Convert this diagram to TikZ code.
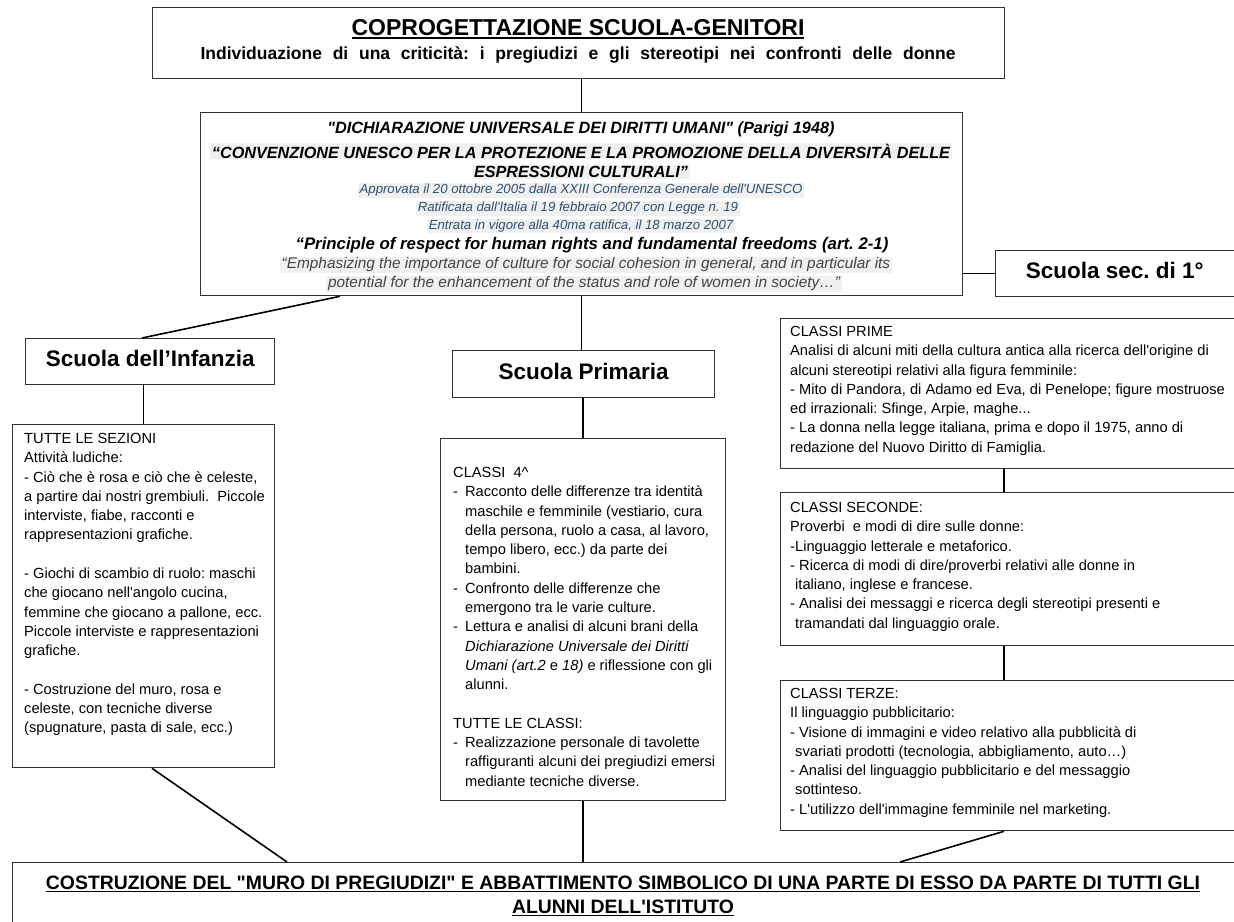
\documentclass[tikz,border=0pt]{standalone}
\usepackage{fontspec}
\setmainfont{Liberation Sans}[Ligatures=TeXOff]
\usetikzlibrary{calc}
\frenchspacing
\definecolor{boxline}{HTML}{333333}
\definecolor{hl}{HTML}{F0F0F0}
\definecolor{smallblue}{HTML}{2F5075}
\definecolor{greytxt}{HTML}{444444}
\newcommand\fs[2]{\fontsize{#1}{#2}\selectfont\frenchspacing}
\newcommand\thul[1]{\leavevmode\vtop{\hbox{#1}\kern1.6pt\hrule height1.6pt}}
\newcommand\up[1]{\raisebox{3pt}[0.7em][0pt]{#1}}
\tikzset{
  box/.style={draw=boxline, line width=1.3pt, fill=white, anchor=north west, inner sep=0pt},
  conn/.style={line width=1.6pt, black},
  txt/.style={inner sep=0pt, align=left, anchor=north west, font=\fs{14.67}{19.3}},
  head/.style={font=\bfseries\fs{22.5}{26}},
  ctr/.style={inner sep=0pt, anchor=center},
  hline/.style={fill=hl, inner xsep=2pt, inner ysep=1pt},
}
\begin{document}
\begin{tikzpicture}[x=1pt,y=-1pt]
\useasboundingbox (0,0) rectangle (1234,921);
\clip (0,0) rectangle (1234,921);

% ---------- boxes ----------
\node[box, minimum width=852pt, minimum height=71pt] (top) at (152,7) {};
\node[box, minimum width=762pt, minimum height=183pt] (mid) at (200,112) {};
\node[box, minimum width=250pt, minimum height=46pt, head] (sec) at (995,250) {\up{\hspace*{-12pt}Scuola sec. di 1°}};
\node[box, minimum width=249pt, minimum height=46pt, head] (inf) at (25,338) {\up{Scuola dell’Infanzia}};
\node[box, minimum width=262pt, minimum height=47pt, head] (prim) at (452,350) {\up{Scuola Primaria}};
\node[box, minimum width=262pt, minimum height=343pt] (infc) at (12,424) {};
\node[box, minimum width=285pt, minimum height=362pt] (primc) at (440,438) {};
\node[box, minimum width=470pt, minimum height=150pt] (prime) at (780,318) {};
\node[box, minimum width=470pt, minimum height=153pt] (seconde) at (780,492) {};
\node[box, minimum width=470pt, minimum height=150pt] (terze) at (780,680) {};
\node[box, minimum width=1240pt, minimum height=70pt] (bot) at (12,862) {};

% ---------- top box text ----------
\node[ctr, font=\bfseries\fs{23}{26}] (t1) at (578,29) {\thul{COPROGETTAZIONE SCUOLA-GENITORI}};
\node[ctr, font=\bfseries\fs{17.5}{20}] (t2) at (578,55) {\makebox[755pt][s]{Individuazione di una criticità: i pregiudizi e gli stereotipi nei confronti delle donne}};

% ---------- middle box text ----------
\node[ctr, font=\bfseries\itshape\fs{16.3}{19}] (m1) at (581,129) {"DICHIARAZIONE UNIVERSALE DEI DIRITTI UMANI" (Parigi 1948)};
\node[ctr, hline, font=\bfseries\itshape\fs{16.2}{19}] (m2) at (581,151) {“CONVENZIONE UNESCO PER LA PROTEZIONE E LA PROMOZIONE DELLA DIVERSITÀ DELLE};
\node[ctr, hline, font=\bfseries\itshape\fs{16.2}{19}] (m3) at (581,172) {ESPRESSIONI CULTURALI”};
\node[ctr, hline, text=smallblue, font=\itshape\fs{13.2}{15}] (m4) at (581,190.5) {Approvata il 20 ottobre 2005 dalla XXIII Conferenza Generale dell'UNESCO};
\node[ctr, hline, text=smallblue, font=\itshape\fs{13.2}{15}] (m5) at (578,208.5) {Ratificata dall'Italia il 19 febbraio 2007 con Legge n. 19};
\node[ctr, hline, text=smallblue, font=\itshape\fs{13.2}{15}] (m6) at (581,226) {Entrata in vigore alla 40ma ratifica, il 18 marzo 2007};
\node[ctr, font=\bfseries\itshape\fs{16.8}{19}] (m7) at (592,245) {“Principle of respect for human rights and fundamental freedoms (art. 2-1)};
\node[ctr, hline, text=greytxt, font=\itshape\fs{15.4}{17}] (m8) at (586,265) {“Emphasizing the importance of culture for social cohesion in general, and in particular its};
\node[ctr, hline, text=greytxt, font=\itshape\fs{15.4}{17}] (m9) at (584,284) {potential for the enhancement of the status and role of women in society…”};

% ---------- Infanzia ----------
\node[txt] (infT) at (24,433) {TUTTE LE SEZIONI\\
Attività ludiche:\\
- Ciò che è rosa e ciò che è celeste,\\
a partire dai nostri grembiuli.\ \ Piccole\\
interviste, fiabe, racconti e\\
rappresentazioni grafiche.\\[19.3pt]
- Giochi di scambio di ruolo: maschi\\
che giocano nell'angolo cucina,\\
femmine che giocano a pallone, ecc.\\
Piccole interviste e rappresentazioni\\
grafiche.\\[19.3pt]
- Costruzione del muro, rosa e\\
celeste, con tecniche diverse\\
(spugnature, pasta di sale, ecc.)};

% ---------- Primaria ----------
\node[txt] (primT) at (453,467) {CLASSI\ \ 4\textasciicircum\\
-\hspace{7pt}Racconto delle differenze tra identità\\
\hspace*{12pt}maschile e femminile (vestiario, cura\\
\hspace*{12pt}della persona, ruolo a casa, al lavoro,\\
\hspace*{12pt}tempo libero, ecc.) da parte dei\\
\hspace*{12pt}bambini.\\
-\hspace{7pt}Confronto delle differenze che\\
\hspace*{12pt}emergono tra le varie culture.\\
-\hspace{7pt}Lettura e analisi di alcuni brani della\\
\hspace*{12pt}\textit{Dichiarazione Universale dei Diritti}\\
\hspace*{12pt}\textit{Umani (art.2} e \textit{18)} e riflessione con gli\\
\hspace*{12pt}alunni.\\[19.3pt]
TUTTE LE CLASSI:\\
-\hspace{7pt}Realizzazione personale di tavolette\\
\hspace*{12pt}raffiguranti alcuni dei pregiudizi emersi\\
\hspace*{12pt}mediante tecniche diverse.};

% ---------- Sec. 1 ----------
\node[txt] (primeT) at (790,326) {CLASSI PRIME\\
Analisi di alcuni miti della cultura antica alla ricerca dell'origine di\\
alcuni stereotipi relativi alla figura femminile:\\
- Mito di Pandora, di Adamo ed Eva, di Penelope; figure mostruose\\
ed irrazionali: Sfinge, Arpie, maghe...\\
- La donna nella legge italiana, prima e dopo il 1975, anno di\\
redazione del Nuovo Diritto di Famiglia.};

\node[txt] (secondeT) at (790,502) {CLASSI SECONDE:\\
Proverbi\ \ e modi di dire sulle donne:\\
-Linguaggio letterale e metaforico.\\
- Ricerca di modi di dire/proverbi relativi alle donne in\\
\hspace*{5pt}italiano, inglese e francese.\\
- Analisi dei messaggi e ricerca degli stereotipi presenti e\\
\hspace*{5pt}tramandati dal linguaggio orale.};

\node[txt] (terzeT) at (790,688) {CLASSI TERZE:\\
Il linguaggio pubblicitario:\\
- Visione di immagini e video relativo alla pubblicità di\\
\hspace*{5pt}svariati prodotti (tecnologia, abbigliamento, auto…)\\
- Analisi del linguaggio pubblicitario e del messaggio\\
\hspace*{5pt}sottinteso.\\
- L'utilizzo dell'immagine femminile nel marketing.};

% ---------- bottom ----------
\node[ctr, font=\bfseries\fs{19.4}{22}] (b1) at (623,884) {\thul{COSTRUZIONE DEL "MURO DI PREGIUDIZI" E ABBATTIMENTO SIMBOLICO DI UNA PARTE DI ESSO DA PARTE DI TUTTI GLI}};
\node[ctr, font=\bfseries\fs{19.4}{22}] (b2) at (623,908) {\thul{ALUNNI DELL'ISTITUTO}};

% ---------- connectors ----------
\draw[conn] (mid.north) -- (mid.north |- top.south);
\draw[conn] (sec.west) -- (sec.west -| mid.east);
\draw[conn] ($(mid.south west)+(140,0)$) -- ($(inf.north west)+(117,0)$);
\draw[conn] (infc.north) -- (infc.north |- inf.south);
\draw[conn] (mid.south) -- (mid.south |- prim.north);
\draw[conn] (primc.north) -- (primc.north |- prim.south);
\draw[conn] (primc.south) -- (primc.south |- bot.north);
\draw[conn] ($(infc.south west)+(140,0)$) -- ($(bot.north west)+(275,0)$);
\coordinate (px) at ($(prime.south west)+(224,0)$);
\draw[conn] (px) -- (px |- seconde.north);
\coordinate (sx) at ($(seconde.south west)+(224,0)$);
\draw[conn] (sx) -- (sx |- terze.north);
\draw[conn] ($(terze.south west)+(224,0)$) -- ($(bot.north west)+(888,0)$);
\end{tikzpicture}
\end{document}
